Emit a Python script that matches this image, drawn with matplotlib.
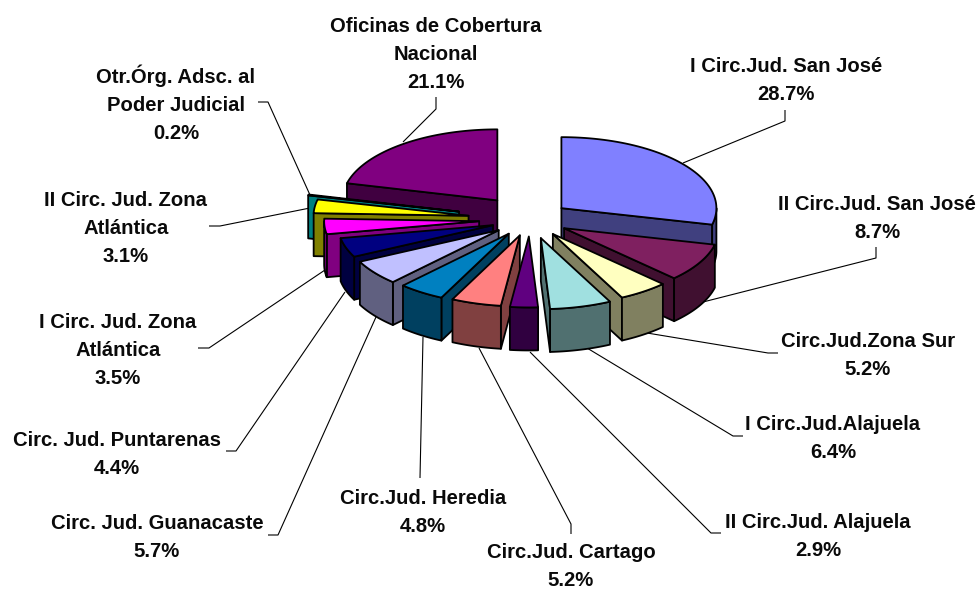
import numpy as np
import matplotlib
matplotlib.use('Agg')
import matplotlib.pyplot as plt
from matplotlib.patches import Polygon

names = ['I Circ.Jud. San José', 'II Circ.Jud. San José', 'Circ.Jud.Zona Sur',
         'I Circ.Jud.Alajuela', 'II Circ.Jud. Alajuela', 'Circ.Jud. Cartago',
         'Circ.Jud. Heredia', 'Circ. Jud. Guanacaste', 'Circ. Jud. Puntarenas',
         'I Circ. Jud. Zona\nAtlántica', 'II Circ. Jud. Zona\nAtlántica',
         'Otr.Órg. Adsc. al\nPoder Judicial', 'Oficinas de Cobertura\nNacional']
values = [28.7, 8.7, 5.2, 6.4, 2.9, 5.2, 4.8, 5.7, 4.4, 3.5, 3.1, 0.2, 21.1]

top_colors = ['#8080FF', '#7F2060', '#FFFFC0', '#A0E0E0', '#600080', '#FF8080', '#0080C0',
              '#C0C0FF', '#000080', '#FF00FF', '#FFFF00', '#00FFFF', '#800080']
side_colors = ['#40407F', '#401030', '#808060', '#507070', '#300040', '#804040', '#004060',
               '#606080', '#000040', '#800080', '#808000', '#008080', '#400040']

# how far each slice is pulled out, not the same for all in the original
explode = [40, 39, 39, 42, 37, 36, 37.5, 39, 39, 51, 62, 73, 53]

# back slices first so the front ones cover them
draw_order = [12, 0, 11, 10, 9, 8, 7, 6, 5, 1, 2, 3, 4]

label_pos = [(786, 80.5), (877, 218), (868, 355.5), (833, 438.5), (818, 536), (571, 567), (423, 512.5),
             (157, 537.5), (117, 454.5), (118, 350.5), (126, 228.5), (176, 103.5), (436, 55)]

leaders = [[(785, 110), (785, 121), (683, 163)],
           [(876, 247), (876, 258), (703, 302)],
           [(778, 353), (768, 353), (647, 333)],
           [(743, 436), (733, 436), (587, 348)],
           [(721, 533), (711, 533), (530, 352)],
           [(571, 534), (571, 524), (479, 348)],
           [(420, 478), (423, 337)],
           [(268, 535), (278, 535), (376, 317)],
           [(226, 451), (236, 451), (345, 292)],
           [(198, 348), (209, 348), (325, 270)],
           [(209, 226), (220, 226), (310, 208)],
           [(258, 102), (268, 102), (310, 195)],
           [(436, 97), (436, 109), (403, 142)]]

cx, cy = 530, 219.5
rx, ry = 155, 71
height = 43
lw = 1.3


def rim(ang, x0, y0):
    return np.column_stack([x0 + rx * np.sin(ang), y0 - ry * np.cos(ang)])


def extrude(pts):
    low = pts[::-1] + [0, height]
    return np.vstack([pts, low])


fig = plt.figure(figsize=(9.78, 5.9), dpi=100)
ax = fig.add_axes([0, 0, 1, 1])
ax.set_xlim(0, 978)
ax.set_ylim(590, 0)
ax.axis('off')

edges = np.radians(np.concatenate([[0], np.cumsum(values)]) / sum(values) * 360)

z = 2
for i in draw_order:
    a0, a1 = edges[i], edges[i + 1]
    mid = (a0 + a1) / 2
    x0 = cx + explode[i] * np.sin(mid)
    y0 = cy - explode[i] * ry / rx * np.cos(mid)
    apex = np.array([[x0, y0]])

    # radial faces, only the ones turned towards the viewer
    for ang, sign in [(a0, -1), (a1, 1)]:
        p = rim(np.array([ang]), x0, y0)
        d = p[0] - apex[0]
        if sign * d[0] > 0:
            ax.add_patch(Polygon(extrude(np.vstack([apex, p])), closed=True, fc=side_colors[i],
                                 ec='black', lw=lw, zorder=z, joinstyle='round'))

    # outer wall, front half of the ellipse only
    lo, hi = max(a0, np.pi / 2), min(a1, 3 * np.pi / 2)
    if hi > lo:
        arc = rim(np.linspace(lo, hi, 40), x0, y0)
        ax.add_patch(Polygon(extrude(arc), closed=True, fc=side_colors[i],
                             ec='black', lw=lw, zorder=z, joinstyle='round'))

    top = np.vstack([apex, rim(np.linspace(a0, a1, 60), x0, y0)])
    ax.add_patch(Polygon(top, closed=True, fc=top_colors[i], ec='black', lw=lw, zorder=z,
                         joinstyle='round'))
    z += 1

for line in leaders:
    xs, ys = zip(*line)
    ax.plot(xs, ys, color='black', lw=0.8, zorder=1, solid_capstyle='butt')

for name, val, (x, y) in zip(names, values, label_pos):
    ax.text(x, y, '%s\n%.1f%%' % (name, val), ha='center', va='center', family='Liberation Sans',
            fontweight='bold', fontsize=14.6, linespacing=1.6, color='#0a0a0a', zorder=50)

fig.savefig('out.png', dpi=100)
